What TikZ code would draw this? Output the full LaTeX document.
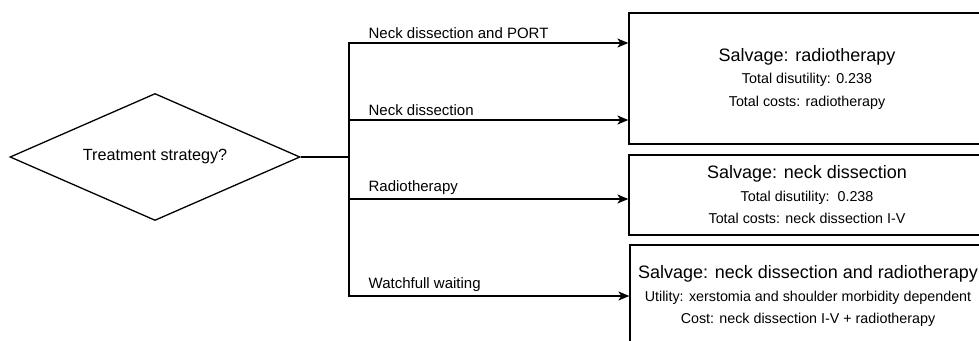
\documentclass[tikz,border=0pt]{standalone}
\usepackage{fontspec}
\setmainfont{Liberation Sans}
\usepackage{tikz}
\usetikzlibrary{shapes.geometric,arrows.meta}

\begin{document}
\begin{tikzpicture}[x=1pt,y=-1pt,
    line width=1.3pt,
    decision/.style={shape=diamond, draw, aspect=2.28, inner sep=0pt,
      minimum width=290pt, minimum height=127pt, font=\fontsize{16.2}{19}\selectfont},
    outcome/.style={shape=rectangle, draw, minimum width=356pt, align=center,
      font=\fontsize{14.3}{22.5}\selectfont},
    arr/.style={-{Stealth[length=11pt,width=9pt,inset=3pt]}},
    branch/.style={anchor=south west, xshift=18pt, yshift=2.5pt, inner sep=1pt,
      font=\fontsize{15}{18}\selectfont}]
    \clip (0,0) rectangle (979,340);

    \node[decision] (strategy) at (155,157) {Treatment strategy?};
    \coordinate (fork) at (349,157);

    \node[outcome, minimum height=131pt] (rt) at (807,78.5)
      {{\fontsize{18}{22.5}\selectfont Salvage: radiotherapy}\\
       Total disutility: 0.238\\ Total costs: radiotherapy};
    \node[outcome, minimum height=80pt] (nd) at (807,195)
      {{\fontsize{18}{22.5}\selectfont Salvage: neck dissection}\\
       Total disutility:\ \ 0.238\\ Total costs: neck dissection I-V};
    \node[outcome, minimum height=102pt] (ndrt) at (808,296)
      {{\fontsize{18}{22.5}\selectfont Salvage: neck dissection and radiotherapy}\\
       Utility: xerstomia and shoulder morbidity dependent\\
       Cost: neck dissection I-V + radiotherapy};

    \draw (strategy.east) -- (fork);
    \draw[arr] (fork) |- node[branch, pos=0.5] {Neck dissection and PORT} ([yshift=35.5pt]rt.west);
    \draw[arr] (fork) |- node[branch, pos=0.5] {Neck dissection} ([yshift=-41.5pt]rt.west);
    \draw[arr] (fork) |- node[branch, pos=0.5] {Radiotherapy} ([yshift=-4pt]nd.west);
    \draw[arr] (fork) |- node[branch, pos=0.5] {Watchfull waiting} (ndrt.west);
\end{tikzpicture}
\end{document}
